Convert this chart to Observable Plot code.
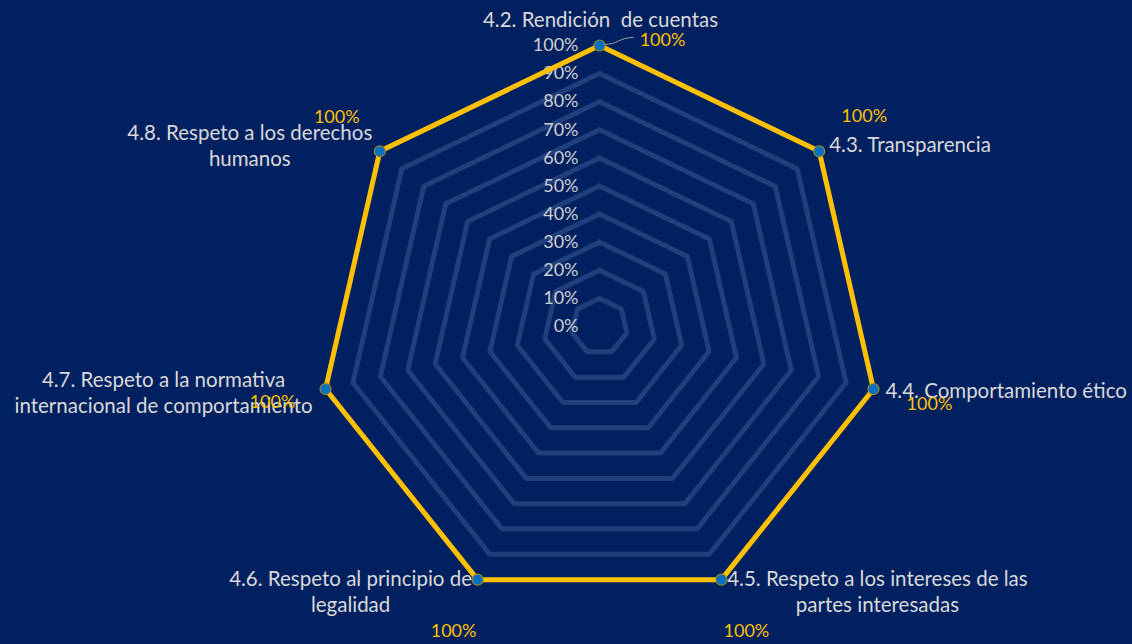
<!DOCTYPE html>
<html>
<head>
<meta charset="utf-8">
<script src="https://cdn.jsdelivr.net/npm/d3@7"></script>
<script src="https://cdn.jsdelivr.net/npm/@observablehq/plot@0.6"></script>
<style>
  html, body { margin: 0; padding: 0; background: #002060; }
  #chart { width: 1132px; height: 644px; }
</style>
</head>
<body>
<div id="chart"></div>
<script>
// ---- data ----
const categories = [
  "4.2. Rendición  de cuentas",
  "4.3. Transparencia",
  "4.4. Comportamiento ético",
  "4.5. Respeto a los intereses de las\npartes interesadas",
  "4.6. Respeto al principio de\nlegalidad",
  "4.7. Respeto a la normativa\ninternacional de comportamiento",
  "4.8. Respeto a los derechos\nhumanos"
];
const values = [1, 1, 1, 1, 1, 1, 1];
const valueLabels = ["100%", "100%", "100%", "100%", "100%", "100%", "100%"];
const ticks = [0, 0.1, 0.2, 0.3, 0.4, 0.5, 0.6, 0.7, 0.8, 0.9, 1];
const tickLabels = ["0%", "10%", "20%", "30%", "40%", "50%", "60%", "70%", "80%", "90%", "100%"];

// ---- layout ----
const W = 1132, H = 644, CX = 599, CY = 326, R = 281;
const N = categories.length;
const ang = i => 2 * Math.PI * i / N;
const px = (i, v) => v * Math.sin(ang(i));
const py = (i, v) => v * Math.cos(ang(i));

// label placement per category (pixel offsets from vertex)
const catLayout = [
  {dx: 1, dy: -27, anchor: "middle"},
  {dx: 10, dy: -8, anchor: "start"},
  {dx: 12, dy: 1, anchor: "start"},
  {dx: 156, dy: 11, anchor: "middle"},
  {dx: -127, dy: 11, anchor: "middle"},
  {dx: -162, dy: 3, anchor: "middle"},
  {dx: -130, dy: -7, anchor: "middle"}
];
const valLayout = [
  {dx: 63, dy: -5},
  {dx: 45, dy: -35},
  {dx: 56, dy: 15},
  {dx: 25, dy: 52},
  {dx: -24, dy: 52},
  {dx: -53, dy: 13},
  {dx: -43, dy: -34}
];

const rings = [];
ticks.filter(t => t > 0).forEach(t => {
  for (let i = 0; i <= N; i++) rings.push({t, x: px(i % N, t), y: py(i % N, t)});
});
const series = [];
for (let i = 0; i <= N; i++) series.push({x: px(i % N, values[i % N]), y: py(i % N, values[i % N])});
const points = values.map((v, i) => ({i, cat: categories[i], lab: valueLabels[i], x: px(i, v), y: py(i, v)}));
const tickData = ticks.map((t, k) => ({t, lab: tickLabels[k], x: 0, y: t}));

const font = "Lato, 'Open Sans', sans-serif";
const marks = [
  Plot.line(rings, {x: "x", y: "y", z: "t", stroke: "#213f7d", strokeWidth: 5, strokeLinejoin: "miter"}),
  Plot.text(tickData, {x: "x", y: "y", text: "lab", textAnchor: "end", dx: -21, fill: "#d0d0d0", fontSize: 18}),
  Plot.line(series, {x: "x", y: "y", stroke: "#FFC000", strokeWidth: 5, strokeLinejoin: "miter"}),
  Plot.link([{x1: 4 / R, y1: 1 + 1 / R, x2: 34 / R, y2: 1 + 8 / R}], {x1: "x1", y1: "y1", x2: "x2", y2: "y2", stroke: "#a6a6a6", strokeWidth: 1, curve: "bump-x"}),
  Plot.dot(points, {x: "x", y: "y", r: 5.5, fill: "#0070C0", stroke: "#9c8a2c", strokeWidth: 1.2})
];
points.forEach((p, i) => {
  marks.push(Plot.text([p], {x: "x", y: "y", text: "cat", dx: catLayout[i].dx, dy: catLayout[i].dy,
    textAnchor: catLayout[i].anchor, lineHeight: 1.27, fill: "#d9d9d9", fontSize: 20.5}));
  marks.push(Plot.text([p], {x: "x", y: "y", text: "lab", dx: valLayout[i].dx, dy: valLayout[i].dy,
    fill: "#FFC000", fontSize: 18}));
});

const chart = Plot.plot({
  width: W, height: H,
  margin: 0,
  x: {domain: [-CX / R, (W - CX) / R], range: [0, W], axis: null},
  y: {domain: [-(H - CY) / R, CY / R], range: [H, 0], axis: null},
  style: {background: "#002060", fontFamily: font, overflow: "visible"},
  marks
});
document.getElementById("chart").appendChild(chart);
</script>
</body>
</html>
